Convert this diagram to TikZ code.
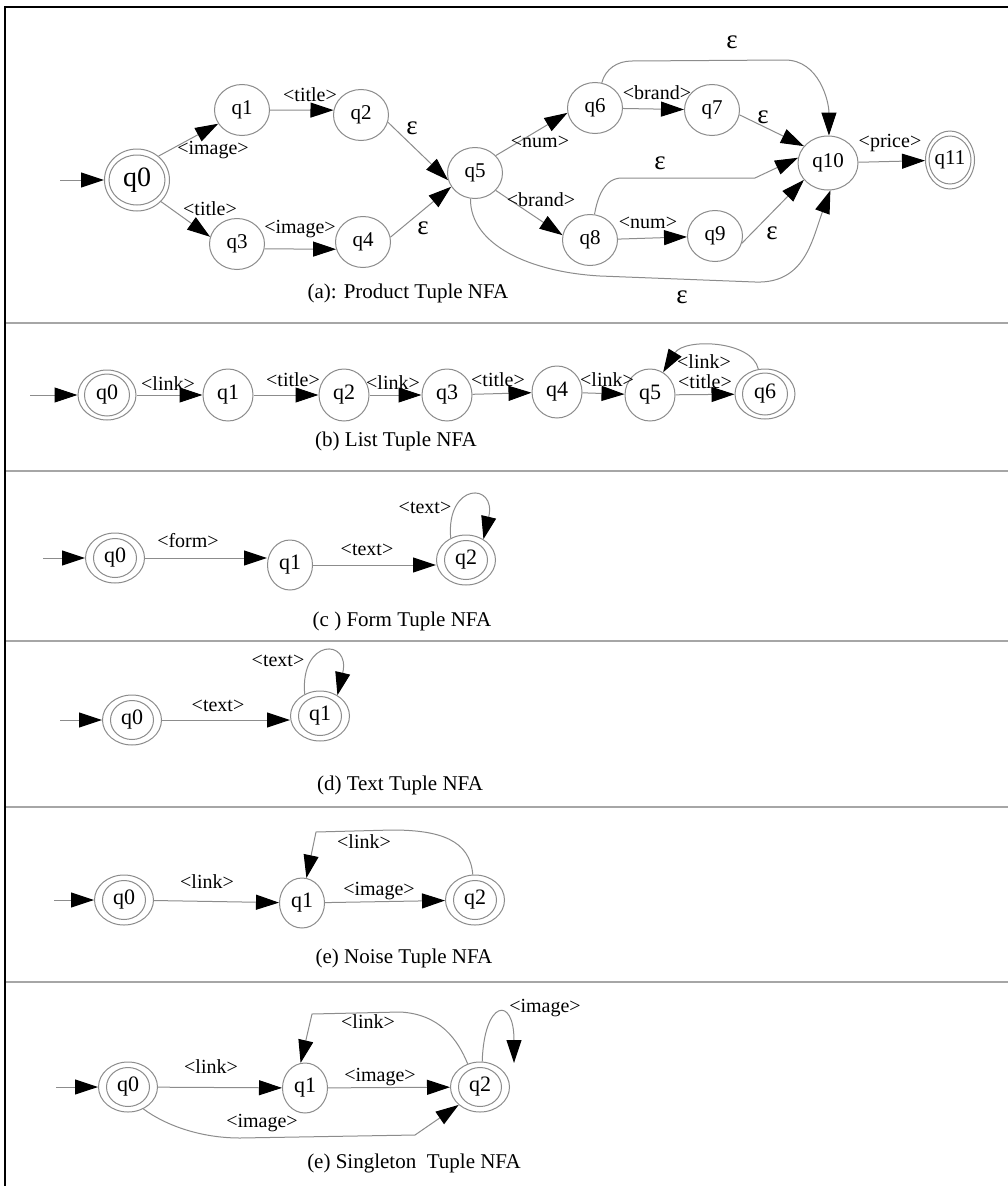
\documentclass[tikz,border=0pt]{standalone}
\usepackage{fontspec}
\setmainfont{Liberation Serif}
\usetikzlibrary{arrows.meta,shapes.geometric}
\definecolor{lg}{gray}{0.55}
\definecolor{sepc}{gray}{0.65}
\tikzset{
  nd/.style={ellipse, draw=lg, line width=1pt, inner sep=0pt, minimum width=45pt, minimum height=50pt, font=\fontsize{22}{22}\selectfont},
  ndb/.style={nd, minimum width=50pt, minimum height=52pt},
  nda/.style={nd, minimum width=55pt, minimum height=51pt, font=\fontsize{21}{21}\selectfont},
  accin/.style n args={2}{path picture={\draw[lg,line width=1pt] (path picture bounding box.center) ellipse [x radius=#1, y radius=#2];}},
  acc/.style={nd, minimum width=59pt, minimum height=50pt, accin={21.5pt}{19.5pt}},
  tr/.style={draw=lg, line width=1pt, -{Triangle[length=23pt,width=15pt,color=black]}},
  lab/.style={font=\fontsize{20}{20}\selectfont, inner sep=0pt},
  eps/.style={font=\fontsize{27}{27}\selectfont, inner sep=0pt},
  captxt/.style={font=\fontsize{21}{21}\selectfont, inner sep=0pt},
  sepl/.style={draw=sepc, line width=1.5pt},
}
\begin{document}
\begin{tikzpicture}[x=1pt,y=-1pt]
\fill[white] (0,0) rectangle (1008,1186);
\useasboundingbox (0,0) rectangle (1008,1186);
% frame and separators
\draw[sepl] (5,323) -- (1008,323);
\draw[sepl] (5,471) -- (1008,471);
\draw[sepl] (5,641) -- (1008,641);
\draw[sepl] (5,807) -- (1008,807);
\draw[sepl] (5,982) -- (1008,982);
\draw[black, line width=2pt] (5,1186) -- (5,7) -- (1008,7);

% ---------- (a) ----------
\node[nd,minimum width=65pt,minimum height=62pt,accin={28pt}{25pt},font=\fontsize{28}{28}\selectfont] (a0) at (137,180) {q0};
\node[nda] (a1) at (242,110) {q1};
\node[nda] (a2) at (361,115) {q2};
\node[nda] (a3) at (237,244) {q3};
\node[nda] (a4) at (363,242) {q4};
\node[nda] (a5) at (475,173) {q5};
\node[nda] (a6) at (595,108) {q6};
\node[nda] (a7) at (712,110) {q7};
\node[nda] (a8) at (590,240) {q8};
\node[nda] (a9) at (715,236) {q9};
\node[nda,minimum width=60pt,minimum height=54pt] (a10) at (828,163) {q10};
\node[nd,minimum width=49pt,minimum height=58pt,accin={21pt}{24pt},font=\fontsize{21}{21}\selectfont] (a11) at (950,160) {q11};
\coordinate (ai) at (60,180);
\draw[tr] (ai) -- (a0);
\draw[tr] (a0.48) -- (a1.-150) node[lab] at (213,150) {<image>};
\draw[tr] (a0.-42) -- (a3.165) node[lab] at (210,209) {<title>};
\draw[tr] (a1.east) -- (a2.170) node[lab] at (310,95) {<title>};
\draw[tr] (a3.-10) -- (a4.-165) node[lab] at (300,229) {<image>};
\draw[tr] (a2.-15) -- (a5.195) node[eps] at (412,128) {ε};
\draw[tr] (a4.10) -- (a5.210) node[eps] at (423,228) {ε};
\draw[tr] (a5.40) -- (a6.190) node[lab] at (540,142) {<num>};
\draw[tr] (a5.-40) -- (a8.170) node[lab] at (541,200) {<brand>};
\draw[tr] (a6) -- (a7) node[lab] at (657,93) {<brand>};
\draw[tr] (a8) -- (a9) node[lab] at (648,223) {<num>};
\draw[tr] (a7.-10) -- (a10.145) node[eps] at (763,117) {ε};
\draw[tr] (a9.-15) -- (a10.-145) node[eps] at (772,233) {ε};
\draw[tr] (a6.75) to[out=75,in=180] (632,61) -- (785,60) to[out=0,in=90] (a10.88);
\node[eps] (ea1) at (732,42) {ε};
\draw[tr] (a8.80) to[out=80,in=180] (622,178) -- (755,178) -- (a10.170);
\node[eps] (ea2) at (660,163) {ε};
\draw[tr] (a5.-100) .. controls (470,245) and (530,272) .. (600,276) -- (755,282) .. controls (805,284) and (812,240) .. (a10.-85);
\node[eps] (ea3) at (682,297) {ε};
\draw[tr] (a10) -- (a11) node[lab] at (890,143) {<price>};
\node[captxt] (capa) at (408,293) {(a): Product Tuple NFA};

% ---------- (b) ----------
\node[nd,minimum width=58pt,minimum height=50pt,accin={22.5pt}{21pt}] (b0) at (107,395) {q0};
\node[ndb] (b1) at (228,395) {q1};
\node[ndb] (b2) at (344,395) {q2};
\node[ndb] (b3) at (447,395) {q3};
\node[ndb] (b4) at (557,392) {q4};
\node[ndb] (b5) at (650,395) {q5};
\node[nd,minimum width=60pt,minimum height=50pt,accin={22.5pt}{21pt}] (b6) at (765,394) {q6};
\coordinate (bi) at (30,395);
\draw[tr] (bi) -- (b0);
\draw[tr] (b0) -- (b1) node[lab] at (168,384) {<link>};
\draw[tr] (b1) -- (b2) node[lab] at (293,380) {<title>};
\draw[tr] (b2) -- (b3) node[lab] at (393,383) {<link>};
\draw[tr] (b3) -- (b4) node[lab] at (498,380) {<title>};
\draw[tr] (b4) -- (b5) node[lab] at (607,380) {<link>};
\draw[tr] (b5) -- (b6) node[lab] at (705,382) {<title>};
\draw[tr] (b6.105) .. controls (752,340) and (684,338) .. (b5.60) node[lab] at (704,362) {<link>};
\node[captxt] (capb) at (396,441) {(b) List Tuple NFA};

% ---------- (c) ----------
\node[acc] (c0) at (115,558) {q0};
\node[nd] (c1) at (290,565) {q1};
\node[acc] (c2) at (466,560) {q2};
\coordinate (ci) at (43,558);
\draw[tr] (ci) -- (c0);
\draw[tr] (c0.east) -- (c1.west |- c0.east) node[lab] at (188,541) {<form>};
\draw[tr] (c1.east) -- (c2.west |- c1.east) node[lab] at (367,550) {<text>};
\draw[tr] (c2.125) .. controls (446,482) and (497,482) .. (c2.50) node[lab] at (425,508) {<text>};
\node[captxt] (capc) at (402,621) {(c ) Form Tuple NFA};

% ---------- (d) ----------
\node[acc] (d0) at (132,720) {q0};
\node[acc] (d1) at (320,716) {q1};
\coordinate (di) at (60,720);
\draw[tr] (di) -- (d0);
\draw[tr] (d0.east) -- (d1.west |- d0.east) node[lab] at (218,706) {<text>};
\draw[tr] (d1.125) .. controls (300,638) and (351,638) .. (d1.50) node[lab] at (278,661) {<text>};
\node[captxt] (capd) at (400,785) {(d) Text Tuple NFA};

% ---------- (e) noise ----------
\node[acc] (e0) at (124,900) {q0};
\node[nd] (e1) at (302,903) {q1};
\node[acc] (e2) at (475,900) {q2};
\coordinate (ei) at (54,900);
\draw[tr] (ei) -- (e0);
\draw[tr] (e0) -- (e1) node[lab] at (207,882) {<link>};
\draw[tr] (e1) -- (e2) node[lab] at (379,891) {<image>};
\draw[tr] (e2.95) .. controls (470,840) and (440,830) .. (392,830) -- (316,832) -- (e1.80) node[lab] at (364,842) {<link>};
\node[captxt] (cape) at (404,958) {(e) Noise Tuple NFA};

% ---------- (e) singleton ----------
\node[acc] (f0) at (128,1087) {q0};
\node[nd] (f1) at (305,1088) {q1};
\node[acc] (f2) at (480,1087) {q2};
\coordinate (fi) at (56,1087);
\coordinate (fe) at (514,1063);
\draw[tr] (fi) -- (f0);
\draw[tr] (f0) -- (f1) node[lab] at (211,1067) {<link>};
\draw[tr] (f1) -- (f2) node[lab] at (380,1077) {<image>};
\draw[tr] (f2.118) .. controls (458,1040) and (440,1014) .. (400,1012) -- (312,1014) -- (f1.100) node[lab] at (368,1022) {<link>};
\draw[tr] (f2.85) .. controls (484,1000) and (514,995) .. (fe) node[lab] at (545,1008) {<image>};
\draw[tr] (f0.-55) .. controls (165,1125) and (200,1138) .. (240,1138) -- (415,1135) -- (f2.-140) node[lab] at (262,1123) {<image>};
\node[captxt] (capf) at (414,1163) {(e) Singleton\ \ Tuple NFA};
\end{tikzpicture}
\end{document}
